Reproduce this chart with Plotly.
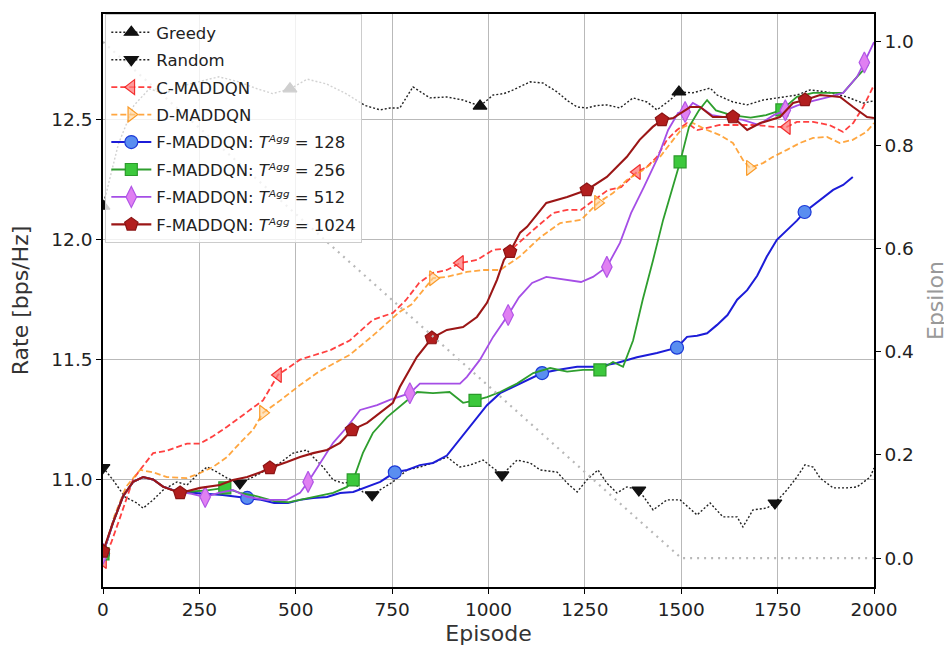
import plotly.graph_objects as go

# ---------------- data ----------------
EP_G = [0, 40, 80, 120, 160, 200, 250, 300, 350, 400, 440, 485, 530, 580, 630, 680, 719, 745, 770, 804,
        848, 892, 934, 978, 1012, 1040, 1064, 1108, 1141, 1178, 1205, 1230, 1255, 1280, 1307, 1341, 1375,
        1411, 1437, 1471, 1494, 1530, 1575, 1593, 1634, 1671, 1712, 1756, 1800, 1834, 1878, 1930, 1971, 2000]
R_G = [12.14, 12.40, 12.56, 12.63, 12.61, 12.64, 12.66, 12.68, 12.66, 12.63, 12.61, 12.63, 12.67, 12.65,
       12.61, 12.56, 12.542, 12.55, 12.55, 12.638, 12.592, 12.596, 12.583, 12.558, 12.604, 12.61, 12.625,
       12.659, 12.654, 12.617, 12.58, 12.554, 12.55, 12.56, 12.563, 12.55, 12.592, 12.575, 12.542, 12.583,
       12.617, 12.613, 12.633, 12.604, 12.575, 12.563, 12.583, 12.592, 12.604, 12.625, 12.617, 12.596,
       12.57, 12.58]
MK_G = [0, 485, 978, 1494]

EP_R = [0, 26, 57, 88, 104, 130, 156, 192, 218, 244, 270, 296, 322, 355, 389, 425, 459, 493, 529, 545,
        571, 597, 623, 649, 674, 698, 726, 752, 789, 822, 856, 892, 926, 952, 986, 1035, 1074, 1108, 1134,
        1178, 1204, 1230, 1255, 1284, 1307, 1333, 1359, 1390, 1427, 1463, 1497, 1541, 1575, 1608, 1645,
        1660, 1686, 1722, 1743, 1774, 1800, 1821, 1842, 1860, 1894, 1930, 1956, 1990, 2000]
R_R = [11.05, 10.998, 10.927, 10.902, 10.88, 10.915, 10.956, 10.99, 10.977, 11.019, 11.052, 11.031,
       11.006, 10.985, 11.01, 11.04, 11.069, 11.11, 11.123, 11.094, 11.052, 10.998, 10.985, 10.99, 10.948,
       10.936, 10.965, 10.99, 11.04, 11.052, 11.069, 11.094, 11.052, 11.06, 11.081, 11.019, 11.081,
       11.069, 11.04, 11.031, 10.985, 10.948, 10.998, 11.04, 10.985, 10.944, 10.969, 10.956, 10.873,
       10.915, 10.915, 10.852, 10.902, 10.844, 10.844, 10.802, 10.873, 10.881, 10.902, 10.956, 11.01,
       11.061, 11.052, 11.006, 10.965, 10.965, 10.969, 11.01, 11.048]
MK_R = [0, 355, 698, 1035, 1390, 1743]

EP_C = [0, 22, 44, 78, 96, 130, 166, 218, 252, 285, 322, 355, 389, 415, 454, 511, 590, 640, 700, 752,
        786, 820, 856, 892, 926, 970, 1012, 1064, 1116, 1168, 1204, 1240, 1274, 1310, 1344, 1385, 1411,
        1437, 1463, 1489, 1515, 1541, 1567, 1600, 1652, 1697, 1738, 1774, 1800, 1842, 1884, 1920, 1946,
        1972, 2000]
R_C = [10.66, 10.74, 10.84, 11.0, 11.04, 11.11, 11.12, 11.15, 11.15, 11.18, 11.22, 11.26, 11.30, 11.33,
       11.436, 11.50, 11.54, 11.58, 11.666, 11.695, 11.749, 11.82, 11.862, 11.874, 11.903, 11.916, 11.958,
       11.966, 12.041, 12.112, 12.125, 12.125, 12.166, 12.208, 12.22, 12.283, 12.304, 12.346, 12.417,
       12.458, 12.487, 12.458, 12.467, 12.479, 12.479, 12.479, 12.471, 12.471, 12.492, 12.492, 12.479,
       12.45, 12.487, 12.554, 12.646]
MK_C = [0, 454, 926, 1385, 1774]

EP_D = [0, 30, 60, 96, 130, 166, 218, 252, 285, 322, 355, 389, 415, 460, 511, 560, 640, 700, 770, 800,
        856, 892, 944, 986, 1030, 1081, 1134, 1186, 1240, 1284, 1323, 1359, 1400, 1445, 1479, 1505, 1530,
        1567, 1600, 1634, 1660, 1678, 1712, 1738, 1774, 1808, 1842, 1878, 1911, 1945, 1980, 2000]
R_D = [10.69, 10.85, 10.97, 11.04, 11.03, 11.01, 11.006, 11.027, 11.052, 11.094, 11.152, 11.207, 11.278,
       11.33, 11.394, 11.45, 11.52, 11.60, 11.70, 11.73, 11.84, 11.845, 11.866, 11.874, 11.874, 11.93,
       12.01, 12.07, 12.083, 12.154, 12.195, 12.25, 12.29, 12.346, 12.417, 12.47, 12.487, 12.458, 12.437,
       12.404, 12.333, 12.30, 12.32, 12.346, 12.375, 12.404, 12.425, 12.429, 12.404, 12.417, 12.45, 12.487]
MK_D = [0, 415, 856, 1284, 1678]

EP_F128 = [0, 26, 52, 78, 104, 130, 156, 192, 230, 270, 310, 374, 410, 444, 480, 511, 545, 581, 615, 649,
           685, 719, 757, 789, 822, 856, 892, 926, 960, 996, 1030, 1081, 1139, 1178, 1230, 1282, 1333,
           1385, 1437, 1489, 1515, 1541, 1567, 1593, 1620, 1645, 1671, 1697, 1722, 1748, 1774, 1800, 1820,
           1860, 1894, 1920, 1945]
R_F128 = [10.69, 10.82, 10.93, 10.99, 11.01, 11.00, 10.97, 10.95, 10.945, 10.94, 10.935, 10.923, 10.915,
          10.902, 10.902, 10.915, 10.923, 10.927, 10.944, 10.948, 10.969, 10.99, 11.03, 11.04, 11.06,
          11.069, 11.10, 11.17, 11.24, 11.31, 11.36, 11.40, 11.444, 11.457, 11.47, 11.47, 11.486, 11.51,
          11.528, 11.55, 11.595, 11.60, 11.61, 11.645, 11.686, 11.75, 11.79, 11.85, 11.93, 12.0, 12.04,
          12.08, 12.116, 12.166, 12.208, 12.229, 12.262]
MK_F128 = [0, 374, 757, 1139, 1489, 1820]

EP_F256 = [0, 26, 52, 78, 104, 130, 156, 192, 230, 270, 316, 355, 400, 444, 480, 511, 545, 597, 633, 649,
           674, 700, 737, 752, 789, 815, 856, 899, 934, 965, 996, 1030, 1074, 1116, 1160, 1204, 1245, 1289,
           1323, 1349, 1375, 1400, 1427, 1453, 1497, 1520, 1546, 1567, 1590, 1630, 1680, 1720, 1761, 1800,
           1842, 1884, 1920, 1956, 1985]
R_F256 = [10.69, 10.82, 10.93, 10.99, 11.01, 11.00, 10.97, 10.95, 10.95, 10.955, 10.965, 10.944, 10.93,
          10.91, 10.905, 10.915, 10.927, 10.944, 10.969, 10.998, 11.11, 11.194, 11.26, 11.28, 11.33,
          11.365, 11.36, 11.365, 11.32, 11.33, 11.344, 11.365, 11.40, 11.444, 11.465, 11.45, 11.457,
          11.457, 11.49, 11.47, 11.58, 11.75, 11.916, 12.083, 12.325, 12.47, 12.54, 12.583, 12.54, 12.52,
          12.51, 12.52, 12.542, 12.596, 12.613, 12.613, 12.613, 12.68, 12.73]
MK_F256 = [0, 316, 649, 965, 1289, 1497, 1761]

EP_F512 = [0, 26, 52, 78, 104, 130, 156, 192, 230, 265, 300, 337, 374, 425, 477, 511, 532, 563, 597, 633,
           667, 711, 744, 796, 822, 874, 926, 944, 978, 1012, 1051, 1079, 1113, 1150, 1204, 1240, 1271,
           1307, 1341, 1370, 1403, 1440, 1466, 1492, 1510, 1530, 1549, 1580, 1620, 1660, 1700, 1740, 1770,
           1800, 1842, 1884, 1920, 1956, 1975, 2000]
R_F512 = [10.69, 10.82, 10.93, 10.99, 11.01, 11.00, 10.97, 10.95, 10.94, 10.927, 10.944, 10.956, 10.927,
          10.915, 10.915, 10.944, 10.99, 11.069, 11.153, 11.219, 11.29, 11.31, 11.332, 11.36, 11.40, 11.40,
          11.40, 11.428, 11.50, 11.595, 11.686, 11.76, 11.82, 11.845, 11.833, 11.824, 11.845, 11.887,
          11.987, 12.112, 12.22, 12.346, 12.458, 12.53, 12.533, 12.571, 12.554, 12.52, 12.51, 12.50, 12.48,
          12.52, 12.54, 12.56, 12.58, 12.596, 12.613, 12.68, 12.74, 12.825]
MK_F512 = [0, 265, 532, 796, 1051, 1307, 1510, 1770, 1975]

EP_F1024 = [0, 26, 52, 78, 104, 130, 156, 200, 252, 303, 337, 374, 410, 433, 477, 511, 545, 581, 615, 646,
            685, 719, 752, 770, 814, 853, 892, 934, 970, 996, 1022, 1040, 1056, 1082, 1100, 1150, 1204,
            1255, 1307, 1359, 1392, 1426, 1450, 1479, 1523, 1549, 1582, 1634, 1671, 1705, 1756, 1790, 1821,
            1860, 1912, 1946, 1982, 2000]
R_F1024 = [10.70, 10.82, 10.93, 10.99, 11.01, 11.00, 10.97, 10.944, 10.965, 10.977, 10.998, 11.01,
           11.031, 11.048, 11.073, 11.094, 11.11, 11.123, 11.153, 11.207, 11.236, 11.278, 11.32, 11.386,
           11.511, 11.59, 11.624, 11.636, 11.678, 11.737, 11.833, 11.916, 11.95, 12.03, 12.054, 12.154,
           12.179, 12.208, 12.262, 12.346, 12.417, 12.471, 12.50, 12.508, 12.554, 12.554, 12.512, 12.512,
           12.458, 12.487, 12.512, 12.571, 12.583, 12.604, 12.596, 12.554, 12.512, 12.508]
MK_F1024 = [0, 200, 433, 646, 853, 1056, 1255, 1450, 1634, 1821]

EP_EPS = [0, 1500, 2000]
EPS = [1.0, 0.0, 0.0]

X_TICKS = [0, 250, 500, 750, 1000, 1250, 1500, 1750, 2000]
Y_TICKS = [11.0, 11.5, 12.0, 12.5]
Y2_TICKS = [0.0, 0.2, 0.4, 0.6, 0.8, 1.0]

FONT = "DejaVu Sans"
CLEAR = "rgba(0,0,0,0)"
T_AGG = "<i>T\u1d2c\u1d4d\u1d4d</i>"   # T with superscript "Agg"

SERIES = [
    dict(name="Greedy", ep=EP_G, r=R_G, mk=MK_G, color="#222222", dash="2px,2px", width=1.4,
         symbol="triangle-up", size=12, face="#111111", edge="#111111"),
    dict(name="Random", ep=EP_R, r=R_R, mk=MK_R, color="#222222", dash="2px,2px", width=1.4,
         symbol="triangle-down", size=12, face="#111111", edge="#111111"),
    dict(name="C-MADDQN", ep=EP_C, r=R_C, mk=MK_C, color="rgba(255,30,30,0.85)", dash="6px,3px", width=1.8,
         symbol="triangle-left", size=13, face="rgba(255,120,120,0.75)", edge="rgba(240,30,30,0.9)"),
    dict(name="D-MADDQN", ep=EP_D, r=R_D, mk=MK_D, color="rgba(255,150,30,0.85)", dash="6px,3px", width=1.8,
         symbol="triangle-right", size=13, face="rgba(255,210,150,0.6)", edge="rgba(250,150,30,0.95)"),
    dict(name="F-MADDQN: " + T_AGG + " = 128", ep=EP_F128, r=R_F128, mk=MK_F128,
         color="#1c1cd8", dash="solid", width=2.0,
         symbol="circle", size=13, face="#5a8ef0", edge="#1c3ad8"),
    dict(name="F-MADDQN: " + T_AGG + " = 256", ep=EP_F256, r=R_F256, mk=MK_F256,
         color="#2e9e2e", dash="solid", width=1.8,
         symbol="square", size=12, face="#3cc83c", edge="#2a9a2a"),
    dict(name="F-MADDQN: " + T_AGG + " = 512", ep=EP_F512, r=R_F512, mk=MK_F512,
         color="#a54ee6", dash="solid", width=1.8,
         symbol="diamond-tall", size=15, face="#e080f2", edge="#b257e6"),
    dict(name="F-MADDQN: " + T_AGG + " = 1024", ep=EP_F1024, r=R_F1024, mk=MK_F1024,
         color="#9b1616", dash="solid", width=2.1,
         symbol="pentagon", size=14, face="#b21e1e", edge="#8b1414"),
]

fig = go.Figure()

for i, s in enumerate(SERIES):
    marked = set(s["mk"])
    faces = [s["face"] if e in marked else CLEAR for e in s["ep"]]
    edges = [s["edge"] if e in marked else CLEAR for e in s["ep"]]
    fig.add_trace(go.Scatter(
        x=s["ep"], y=s["r"], mode="lines+markers", name=s["name"], legendgroup="g%d" % i,
        line=dict(color=s["color"], width=s["width"], dash=s["dash"]),
        marker=dict(symbol=s["symbol"], size=s["size"], color=faces,
                    line=dict(color=edges, width=1.2)),
        hoverinfo="skip"))

fig.add_trace(go.Scatter(
    x=EP_EPS, y=EPS, mode="lines", yaxis="y2", showlegend=False,
    line=dict(color="#b8b8b8", width=2.2, dash="2px,5px"), hoverinfo="skip"))

TICK_FONT = dict(family=FONT, size=18.5, color="#222")
TITLE_SIZE = 22

axis_common = dict(showline=True, linecolor="black", linewidth=1.5, ticks="outside", ticklen=5,
                   tickwidth=1.2, tickcolor="black", zeroline=False, automargin=False,
                   tickfont=TICK_FONT)

# the html page body has an 8px margin, so the figure is sized to fill the rest of the window
fig.update_layout(
    width=944, height=644,
    margin=dict(l=95, r=78, t=6, b=65),
    paper_bgcolor="white", plot_bgcolor="white",
    font=dict(family=FONT, size=16, color="#222"),
    hoverlabel=dict(font=dict(family=FONT, size=14)),
    xaxis=dict(range=[0, 2000], tickvals=X_TICKS, showgrid=True, gridcolor="#b9b9b9", gridwidth=1,
               mirror=True,
               title=dict(text="Episode", font=dict(family=FONT, size=TITLE_SIZE, color="#333"), standoff=7),
               **axis_common),
    yaxis=dict(range=[10.5515, 12.942], tickvals=Y_TICKS, tickformat=".1f", showgrid=True,
               gridcolor="#b9b9b9", gridwidth=1, mirror=True,
               title=dict(text="Rate [bps/Hz]", font=dict(family=FONT, size=TITLE_SIZE, color="#333"),
                          standoff=17),
               **axis_common),
    yaxis2=dict(range=[-0.056, 1.054], tickvals=Y2_TICKS, tickformat=".1f", overlaying="y", side="right",
                showgrid=False,
                title=dict(text="Epsilon", font=dict(family=FONT, size=TITLE_SIZE, color="#999999"),
                           standoff=15),
                **axis_common),
    legend=dict(x=0.003, y=1.0, xanchor="left", yanchor="top", bgcolor="rgba(255,255,255,0.8)",
                bordercolor="#cccccc", borderwidth=1, font=dict(family=FONT, size=16.5, color="#222"),
                traceorder="grouped", tracegroupgap=3, itemwidth=40),
)

fig.write_html("out.html")
